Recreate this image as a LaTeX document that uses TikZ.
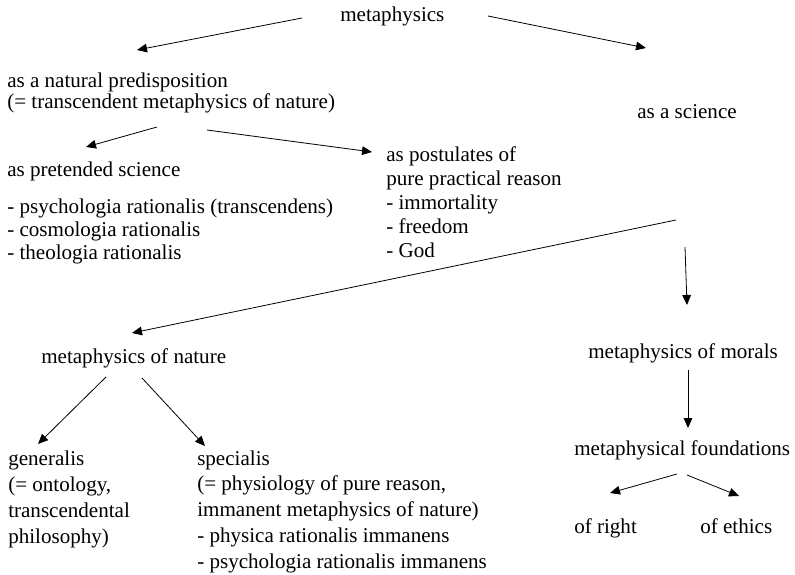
\documentclass[tikz,border=0pt]{standalone}
\usepackage{fontspec}
\setmainfont{Liberation Serif}
\usetikzlibrary{arrows.meta}
\tikzset{
  txt/.style={anchor=base west, inner sep=0pt, align=left,
    font=\fontsize{15.8}{#1}\selectfont},
  txt/.default=18,
  link/.style={-{Triangle[length=7.5pt,width=6.5pt]}, line width=0.6pt},
}

\begin{document}
\begin{tikzpicture}[x=0.75pt, y=-0.75pt]
  \useasboundingbox (0,0) rectangle (795,574);
  % upper half (multi-line blocks sit on their last line)
  \node[txt] (top) at (340,22) {metaphysics};
  \node[txt=16.5] (nat) at (7,109)
    {as a natural predisposition\\(= transcendent metaphysics of nature)};
  \node[txt] (sci) at (637,119) {as a science};
  \node[txt] (pret) at (7,176) {as pretended science};
  \node[txt=17.25] (list) at (7,259)
    {- psychologia rationalis (transcendens)\\- cosmologia rationalis\\- theologia rationalis};
  \node[txt] (post) at (386,257)
    {as postulates of\\pure practical reason\\- immortality\\- freedom\\- God};
  % lower half
  \node[txt] (nature) at (41,363) {metaphysics of nature};
  \node[txt] (morals) at (588,358) {metaphysics of morals};
  \node[txt] (found) at (574,455) {metaphysical foundations};
  \node[txt=19.5] (gen) at (8,543)
    {generalis\\(= ontology,\\transcendental\\philosophy)};
  \node[txt=19.3] (spec) at (197,568)
    {specialis\\(= physiology of pure reason,\\immanent metaphysics of nature)\\- physica rationalis immanens\\- psychologia rationalis immanens};
  \node[txt] (right) at (574,533) {of right};
  \node[txt] (ethics) at (700,533) {of ethics};

  \draw[link] ([shift={(-38,-4)}]top.base west) -- ([shift={(130,-59)}]nat.base west);
  \draw[link] ([shift={(148,-6)}]top.base west) -- ([shift={(9,-71)}]sci.base west);
  \draw[link] ([shift={(150,18)}]nat.base west) -- ([shift={(79,-29)}]pret.base west);
  \draw[link] ([shift={(200,21)}]nat.base west) -- ([shift={(-14,-105)}]post.base west);
  \draw[link] ([shift={(39,101)}]sci.base west) -- ([shift={(91,-30)}]nature.base west);
  \draw[link] ([shift={(48,128)}]sci.base west) -- ([shift={(99,-53)}]morals.base west);
  \draw[link] ([shift={(100,12)}]morals.base west) -- ([shift={(114,-27)}]found.base west);
  \draw[link] ([shift={(65,14)}]nature.base west) -- ([shift={(30,-99)}]gen.base west);
  \draw[link] ([shift={(101,15)}]nature.base west) -- ([shift={(8,-122)}]spec.base west);
  \draw[link] ([shift={(103,19)}]found.base west) -- ([shift={(36,-40)}]right.base west);
  \draw[link] ([shift={(113,20)}]found.base west) -- ([shift={(39,-37)}]ethics.base west);
\end{tikzpicture}
\end{document}
